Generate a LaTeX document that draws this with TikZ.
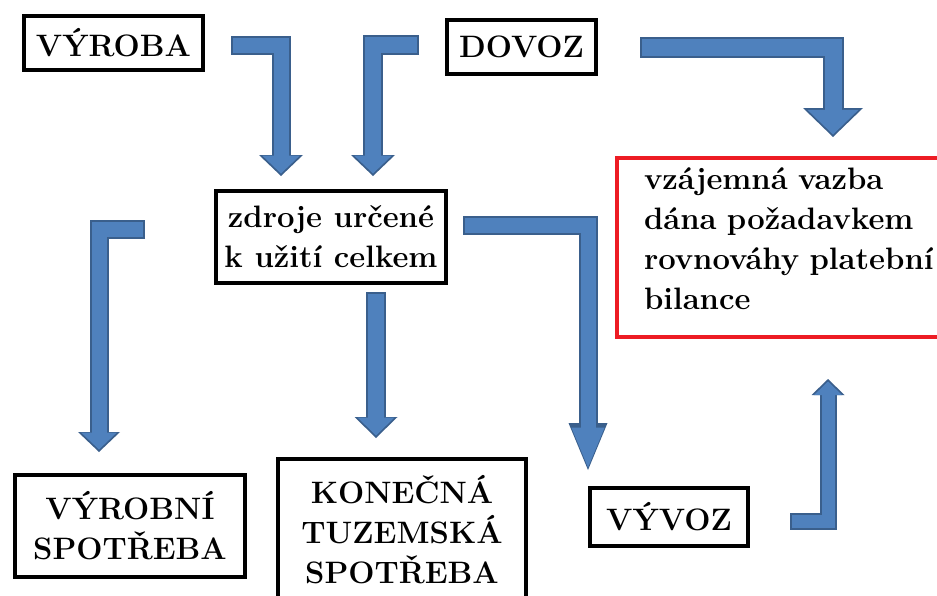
\documentclass[tikz,border=0pt]{standalone}
\usepackage{xcolor}
\usetikzlibrary{arrows.meta}

\definecolor{arrowfill}{RGB}{79,129,189}
\definecolor{arrowline}{RGB}{58,95,140}
\definecolor{bilred}{RGB}{237,28,36}

\begin{document}
\begin{tikzpicture}[
    x=1pt, y=-1pt,
    box/.style={rectangle, draw, line width=4pt, align=center, inner sep=0pt, font=\bfseries\fontsize{31}{40}\selectfont},
    note/.style={rectangle, draw=bilred, line width=4pt, align=left, text width=300pt, text depth=138pt, inner xsep=27pt, inner ysep=0pt, font=\bfseries\fontsize{31}{40}\selectfont},
    flow/.style n args={3}{line width=#1-4pt, draw=arrowfill, shorten >=2.5pt, -{Triangle[width=#2, length=#3, scale=0.85, line width=0pt]},
        preaction={draw=arrowline, line width=#1, shorten <=-2pt, shorten >=0pt, -{Triangle[width=#2, length=#3, line width=0pt]}}}
]
\clip (0,0) rectangle (937,595);

% Boxes
\node[box, minimum width=179pt, minimum height=54pt] (Vyroba) at (113.5,43) {VÝROBA};
\node[box, minimum width=149pt, minimum height=54pt] (Dovoz) at (521.5,47) {DOVOZ};
\node[box, minimum width=230pt, minimum height=92pt] (Zdroje) at (331,237) {zdroje určené\\k užití celkem};
\node[box, minimum width=230pt, minimum height=102pt] (VyrSpotreba) at (130,526) {VÝROBNÍ\\SPOTŘEBA};
\node[box, minimum width=248pt, minimum height=142pt] (KonSpotreba) at (402,530) {KONEČNÁ\\TUZEMSKÁ\\SPOTŘEBA};
\node[box, minimum width=158pt, minimum height=58pt] (Vyvoz) at (669,517) {VÝVOZ};
\node[note, minimum height=179pt, anchor=west] (Bilance) at (615,247.5) {vzájemná vazba\\dána požadavkem\\rovnováhy platební\\bilance};

% Arrow ends
\coordinate (VyrobaOut) at (233,45);
\coordinate (ZdrojeInL) at (281,176);
\coordinate (DovozOutL) at (417,45);
\coordinate (ZdrojeInR) at (373,176);
\coordinate (DovozOutR) at (642,47.5);
\coordinate (BilanceInT) at (833,137);
\coordinate (ZdrojeOutR) at (465,225.5);
\coordinate (VyvozIn) at (588,470);
\coordinate (ZdrojeOutL) at (143,229);
\coordinate (VyrSpotrebaIn) at (99,452);
\coordinate (ZdrojeOutB) at (376,294);
\coordinate (KonSpotrebaIn) at (376,438);
\coordinate (VyvozOut) at (792,521);
\coordinate (BilanceInB) at (828,379);

% Arrows into zdroje
\draw[flow={19pt}{44pt}{21pt}] (VyrobaOut) -| (ZdrojeInL);
\draw[flow={20pt}{44pt}{21pt}] (DovozOutL) -| (ZdrojeInR);

% Arrows out of zdroje
\draw[flow={19pt}{42pt}{20pt}] (ZdrojeOutL) -| (VyrSpotrebaIn);
\draw[flow={20pt}{43pt}{21pt}] (ZdrojeOutB) -- (KonSpotrebaIn);
\draw[flow={19pt}{39pt}{47pt}] (ZdrojeOutR) -| (VyvozIn);

% Arrows into bilance
\draw[flow={21pt}{60pt}{29pt}] (DovozOutR) -| (BilanceInT);
\draw[flow={17pt}{33pt}{16pt}] (VyvozOut) -| (BilanceInB);

\end{tikzpicture}
\end{document}
